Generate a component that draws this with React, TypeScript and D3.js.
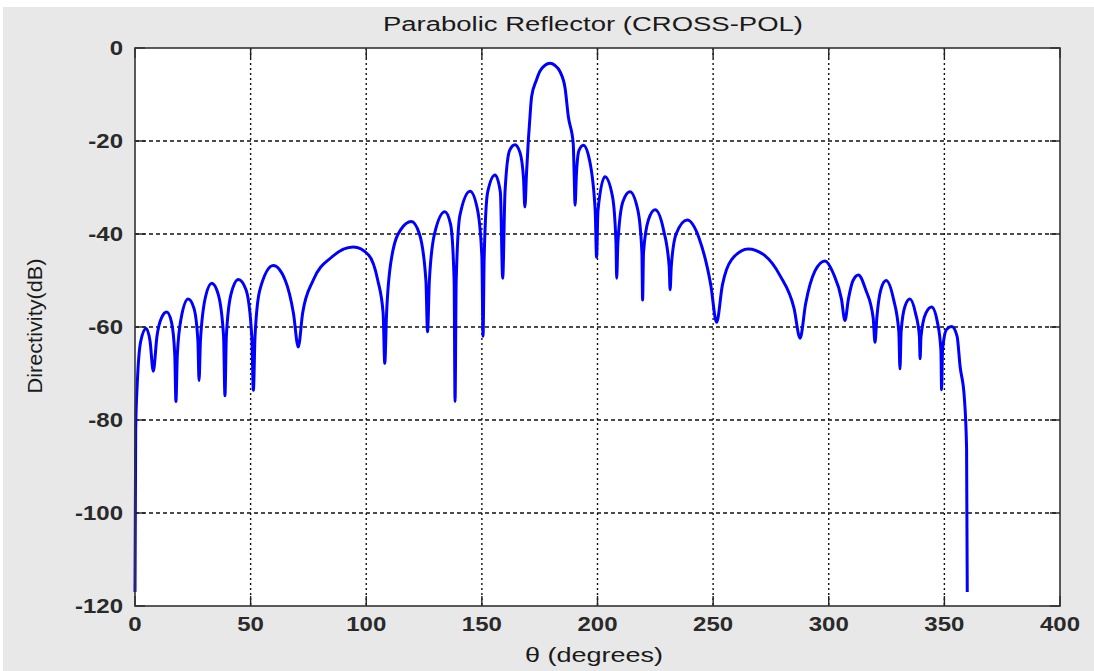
import React from "react";
import * as d3 from "d3";

const TITLE = "Parabolic Reflector (CROSS-POL)";
const X_LABEL = "θ (degrees)";
const Y_LABEL = "Directivity(dB)";

const X_TICKS = [0, 50, 100, 150, 200, 250, 300, 350, 400];
const Y_TICKS = [0, -20, -40, -60, -80, -100, -120];

const THETA = [
  0, 0.3, 1, 2.5, 4.8, 6.5, 7.9, 9.5, 11.5, 13.7, 15.8, 17.2, 17.7, 18.3, 20, 23, 25.5, 27.2, 27.7, 28.3,
  30.5, 33.2, 36, 38.3, 38.9, 39.5, 41.5, 44.7, 48, 50.5, 51.2, 51.9, 54, 59.8, 65, 68.5, 70.6, 72.5, 77, 85,
  94.4, 101, 105, 107.3, 108, 108.8, 111, 115, 119.5, 123, 125.8, 126.5, 127.3, 129.5, 134, 136.5, 138, 138.4, 138.9, 140.5,
  144.9, 148.2, 150, 150.5, 151, 152.5, 155.7, 158, 159, 160, 162, 164.3, 166.5, 168, 168.6, 169.3, 170.1, 170.8, 171.5, 173.6,
  175, 177.3, 179.5, 181.5, 183.8, 186, 187.4, 189.5, 189.9, 190.3, 190.9, 192, 193.9, 196.5, 199, 199.6, 200.2, 203.2, 206.5, 208,
  208.3, 208.8, 211, 214, 217.5, 219.2, 219.5, 219.9, 222, 224.9, 228.5, 231, 231.4, 231.9, 234, 238.8, 244, 249, 251.5, 254,
  258, 265.2, 272, 279, 285, 287.6, 290, 294, 298.4, 302, 305.5, 307, 308.5, 310.5, 312.8, 316, 319.2, 320, 320.8, 322.5,
  324.8, 328, 330.3, 330.8, 331.3, 333, 335.1, 337.5, 339.2, 339.5, 339.9, 342, 344.5, 347, 348.5, 348.8, 349.2, 351, 353.2, 355.5,
  356.8, 358.6, 359.6, 359.9,
];

const DIRECTIVITY = [
  -117, -82, -72, -63, -60.3, -63, -69.5, -62, -58, -56.8, -59, -66, -76, -66, -58, -54, -56, -63, -71.5, -63,
  -53.5, -50.6, -53, -62, -74.8, -62, -53, -49.8, -52, -62, -73.6, -62, -52, -46.8, -50, -57, -64.3, -57, -50, -45,
  -42.8, -44.5, -50, -57, -67.8, -57, -45, -39, -37.3, -40, -50, -61, -50, -40, -35.2, -38, -50, -76, -50, -36,
  -30.8, -35, -45, -62, -45, -31, -27.3, -31, -49.5, -31, -22, -20.8, -22.5, -28, -34.2, -27, -19.8, -14.8, -10.5, -6.9,
  -5.1, -3.7, -3.3, -3.7, -5.1, -8.7, -14.8, -20.5, -27, -33.8, -27, -22, -20.9, -24, -35, -45, -35, -27.7, -32, -42,
  -49.5, -42, -33, -30.9, -35, -44, -54.2, -44, -37, -34.8, -39, -47, -52, -47, -40, -37, -41, -51, -59, -51,
  -45.5, -43.2, -44.5, -49, -56, -62.4, -55, -48, -45.8, -48.5, -54, -58.6, -54, -50, -48.8, -52, -58, -63.3, -58, -52,
  -50, -54, -61, -69, -61, -55.5, -54, -57, -62, -66.8, -62, -57, -55.7, -59, -65, -73.5, -65, -60.5, -59.9, -62,
  -68.5, -75, -86, -117,
];

const W = 1094;
const H = 671;
const M = { left: 135, right: 1060, top: 48, bottom: 606 };

export default function App() {
  React.useEffect(() => {
    document.body.style.margin = "0";
  }, []);

  const x = d3.scaleLinear().domain([0, 400]).range([M.left, M.right]);
  const y = d3.scaleLinear().domain([-120, 0]).range([M.bottom, M.top]);

  const data = THETA.map((t, i) => [t, DIRECTIVITY[i]] as [number, number]);
  const line = d3
    .line<[number, number]>()
    .x((d) => x(d[0]))
    .y((d) => y(d[1]))
    .curve(d3.curveMonotoneX);

  const font = "'Liberation Sans', Arial, sans-serif";
  const tickLen = 10;
  const sx = 1.2;

  return (
    <svg width={W} height={H} style={{ display: "block", position: "absolute", left: 0, top: 0 }} fontFamily={font}>
      <rect x={0} y={0} width={W} height={H} fill="#ffffff" />
      <rect x={3} y={7} width={W - 3} height={H - 7} fill="#e8e8e8" />
      <rect x={M.left} y={M.top} width={M.right - M.left} height={M.bottom - M.top} fill="#ffffff" />

      {X_TICKS.slice(1, -1).map((t) => (
        <line key={"gx" + t} x1={x(t)} x2={x(t)} y1={M.top} y2={M.bottom} stroke="#111" strokeWidth={1.4} strokeDasharray="2,3" />
      ))}
      {Y_TICKS.slice(1, -1).map((t) => (
        <line key={"gy" + t} x1={M.left} x2={M.right} y1={y(t)} y2={y(t)} stroke="#111" strokeWidth={1.4} strokeDasharray="4,3" />
      ))}

      {X_TICKS.map((t) => (
        <g key={"tx" + t}>
          <line x1={x(t)} x2={x(t)} y1={M.bottom} y2={M.bottom - tickLen} stroke="#222" strokeWidth={1.4} />
          <line x1={x(t)} x2={x(t)} y1={M.top} y2={M.top + tickLen} stroke="#222" strokeWidth={1.4} />
          <text
            transform={`translate(${x(t)},${M.bottom + 25}) scale(${sx},1)`}
            textAnchor="middle"
            fontSize={20}
            fontWeight="bold"
            fill="#2a2a2a"
          >
            {t}
          </text>
        </g>
      ))}
      {Y_TICKS.map((t) => (
        <g key={"ty" + t}>
          <line x1={M.left} x2={M.left + tickLen} y1={y(t)} y2={y(t)} stroke="#222" strokeWidth={1.4} />
          <line x1={M.right} x2={M.right - tickLen} y1={y(t)} y2={y(t)} stroke="#222" strokeWidth={1.4} />
          <text
            transform={`translate(${M.left - 12},${y(t) + 7}) scale(${sx},1)`}
            textAnchor="end"
            fontSize={20}
            fontWeight="bold"
            fill="#2a2a2a"
          >
            {t}
          </text>
        </g>
      ))}

      <path d={line(data) || ""} fill="none" stroke="#0000ff" strokeWidth={3} strokeLinejoin="round" />

      <rect x={M.left} y={M.top} width={M.right - M.left} height={M.bottom - M.top} fill="none" stroke="#333" strokeWidth={1.6} />

      <text x={593} y={31} textAnchor="middle" fontSize={20} fill="#1a1a1a" textLength={420} lengthAdjust="spacingAndGlyphs">
        {TITLE}
      </text>
      <text x={594} y={662} textAnchor="middle" fontSize={20} fill="#1a1a1a" textLength={138} lengthAdjust="spacingAndGlyphs">
        {X_LABEL}
      </text>
      <text
        transform={`translate(42,326) rotate(-90)`}
        textAnchor="middle"
        fontSize={20}
        fill="#1a1a1a"
        textLength={135}
        lengthAdjust="spacingAndGlyphs"
      >
        {Y_LABEL}
      </text>
    </svg>
  );
}
